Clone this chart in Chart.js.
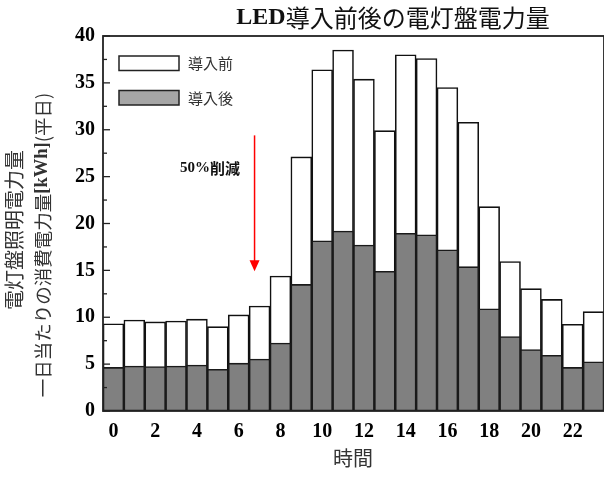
<!DOCTYPE html>
<html>
<head>
<meta charset="utf-8">
<script src="https://cdn.jsdelivr.net/npm/chart.js@4"></script>
<style>
  body { margin: 0; background: #fff; }
  canvas { display: block; }
</style>
</head>
<body>
<canvas id="powerChart" width="604" height="479"></canvas>
<script>
// hours of the day
const hours = ['0','1','2','3','4','5','6','7','8','9','10','11','12','13','14','15','16','17','18','19','20','21','22','23'];
// kWh per hour, weekday average
const beforeLED = [9.3, 9.7, 9.5, 9.6, 9.8, 9.0, 10.25, 11.2, 14.4, 27.1, 36.4, 38.5, 35.4, 29.9, 38.0, 37.6, 34.5, 30.8, 21.8, 15.95, 13.05, 11.9, 9.25, 10.6];
const afterLED = [4.65, 4.8, 4.75, 4.8, 4.9, 4.45, 5.1, 5.55, 7.25, 13.5, 18.15, 19.2, 17.7, 14.9, 18.95, 18.8, 17.2, 15.4, 10.9, 7.95, 6.55, 5.95, 4.65, 5.25];
const yTicks = [0, 5, 10, 15, 20, 25, 30, 35, 40];

// arrow note: category position and values
const arrowAt = 6.76;
const arrowFrom = 29.4;
const arrowTo = 14.9;
const noteText = '50%削減';
const noteAt = [4.62, 25.9];

const titleParts = [['LED', 'bold 24px "Liberation Serif"'], ['導入前後の電灯盤電力量', '24px "Noto Sans CJK JP"']];
const yTitle1 = [['電灯盤照明電力量', '20px "Noto Sans CJK JP"']];
const yTitle2 = [['一日当たりの消費電力量', '18.5px "Noto Sans CJK JP"'], ['[kWh]', 'bold 18.5px "Liberation Serif"'], ['(平日)', '18.5px "Noto Sans CJK JP"']];
const xTitle = '時間';

const cjk = '"Noto Sans CJK JP"';
const tickFont = { family: 'Liberation Serif', size: 20, weight: 'bold' };

function drawParts(ctx, parts, x, y, align) {
    let total = 0;
    parts.forEach(p => { ctx.font = p[1]; total += ctx.measureText(p[0]).width; });
    let cx = align === 'center' ? x - total / 2 : x;
    ctx.textAlign = 'left';
    ctx.textBaseline = 'middle';
    parts.forEach(p => {
        ctx.font = p[1];
        ctx.fillText(p[0], cx, y);
        cx += ctx.measureText(p[0]).width;
    });
}

const decor = {
    id: 'decor',
    afterDatasetsDraw(chart) {
        const { ctx, chartArea: a, scales: { x, y } } = chart;
        ctx.save();

        // frame
        ctx.strokeStyle = '#222';
        ctx.lineWidth = 1.8;
        ctx.strokeRect(a.left, a.top, a.right - a.left, a.bottom - a.top);

        // inward ticks on the y axis, minor ones halfway
        ctx.lineWidth = 1.3;
        for (let i = 0; i < yTicks.length; i++) {
            const py = y.getPixelForValue(yTicks[i]);
            ctx.beginPath(); ctx.moveTo(a.left, py); ctx.lineTo(a.left + 7, py); ctx.stroke();
            if (i < yTicks.length - 1) {
                const pm = y.getPixelForValue((yTicks[i] + yTicks[i + 1]) / 2);
                ctx.beginPath(); ctx.moveTo(a.left, pm); ctx.lineTo(a.left + 4, pm); ctx.stroke();
            }
        }

        // legend
        const ds = chart.data.datasets;
        const swatch = ['#ffffff', '#a6a6a6'];
        ds.forEach((d, i) => {
            const by = a.top + 20 + i * 34.5;
            ctx.fillStyle = swatch[i];
            ctx.fillRect(a.left + 16, by, 60, 14.5);
            ctx.strokeStyle = '#222';
            ctx.lineWidth = 1.5;
            ctx.strokeRect(a.left + 16, by, 60, 14.5);
            ctx.fillStyle = '#333';
            ctx.font = '15px ' + cjk;
            ctx.textAlign = 'left';
            ctx.textBaseline = 'middle';
            ctx.fillText(d.label, a.left + 85, by + 7.5);
        });

        // arrow
        const ax = x.getPixelForValue(arrowAt);
        const ay0 = y.getPixelForValue(arrowFrom);
        const ay1 = y.getPixelForValue(arrowTo);
        ctx.strokeStyle = '#ff0000';
        ctx.fillStyle = '#ff0000';
        ctx.lineWidth = 1.5;
        ctx.beginPath(); ctx.moveTo(ax, ay0); ctx.lineTo(ax, ay1 - 8); ctx.stroke();
        ctx.beginPath();
        ctx.moveTo(ax - 5, ay1 - 11); ctx.lineTo(ax + 5, ay1 - 11); ctx.lineTo(ax, ay1);
        ctx.closePath(); ctx.fill();

        ctx.fillStyle = '#111';
        drawParts(ctx, [['50%', 'bold 15px "Liberation Serif"'], ['削減', 'bold 15px ' + cjk]],
            x.getPixelForValue(noteAt[0]), y.getPixelForValue(noteAt[1]), 'center');

        // title
        ctx.fillStyle = '#111';
        drawParts(ctx, titleParts, 393, 18, 'center');

        // x title
        ctx.fillStyle = '#333';
        ctx.font = '20px ' + cjk;
        ctx.textAlign = 'center';
        ctx.textBaseline = 'middle';
        ctx.fillText(xTitle, 353, 458);

        // y title, two rotated lines
        ctx.save();
        ctx.translate(14.5, 230);
        ctx.rotate(-Math.PI / 2);
        drawParts(ctx, yTitle1, 0, 0, 'center');
        ctx.restore();
        ctx.save();
        ctx.translate(42.5, 245);
        ctx.rotate(-Math.PI / 2);
        drawParts(ctx, yTitle2, 0, 0, 'center');
        ctx.restore();

        ctx.restore();
    }
};

const ctx = document.getElementById('powerChart').getContext('2d');
const powerChart = new Chart(ctx, {
    type: 'bar',
    data: {
        labels: hours,
        datasets: [{
            label: '導入前',
            data: beforeLED,
            backgroundColor: '#ffffff',
            borderColor: '#111',
            borderWidth: 1.6,
            grouped: false,
            order: 2
        }, {
            label: '導入後',
            data: afterLED,
            backgroundColor: '#808080',
            borderColor: '#1a1a1a',
            borderWidth: 1.6,
            grouped: false,
            order: 1
        }]
    },
    options: {
        responsive: false,
        animation: false,
        layout: { padding: { top: 36, right: 0, bottom: 0, left: 0 } },
        datasets: { bar: { barPercentage: 1, categoryPercentage: 1, borderSkipped: false } },
        plugins: {
            legend: { display: false },
            tooltip: { enabled: false },
            title: { display: false }
        },
        scales: {
            x: {
                grid: { display: false, drawTicks: false },
                border: { display: false },
                afterFit: scale => { scale.height = 68; },
                ticks: {
                    autoSkip: false,
                    maxRotation: 0,
                    padding: 9,
                    color: '#000',
                    font: tickFont,
                    callback: function (value) {
                        const l = this.getLabelForValue(value);
                        return Number(l) % 2 === 0 ? l : '';
                    }
                }
            },
            y: {
                min: 0,
                max: 40,
                grid: { display: false, drawTicks: false },
                border: { display: false },
                afterFit: scale => { scale.width = 103; },
                afterBuildTicks: scale => { scale.ticks = yTicks.map(v => ({ value: v })); },
                ticks: {
                    padding: 8,
                    color: '#000',
                    font: tickFont
                }
            }
        }
    },
    plugins: [decor]
});
</script>
</body>
</html>
